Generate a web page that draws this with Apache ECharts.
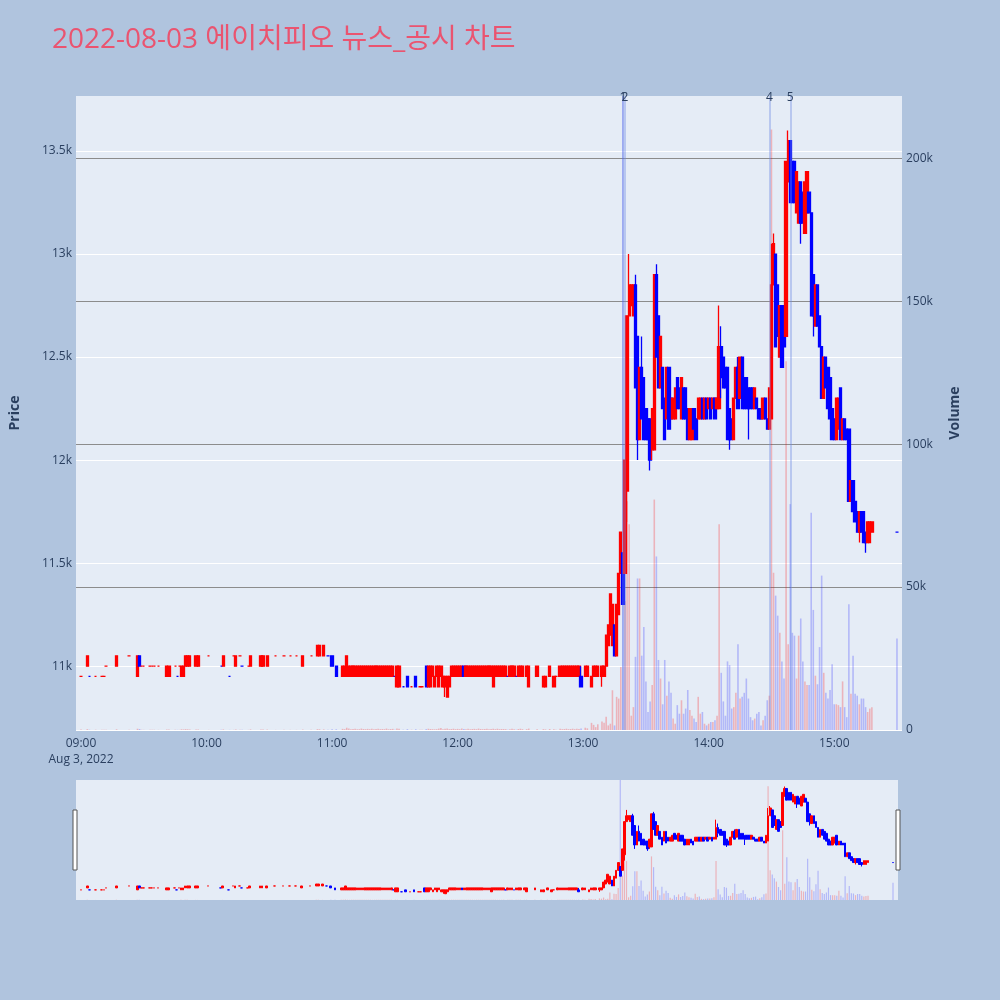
<!DOCTYPE html>
<html><head><meta charset="utf-8">
<script src="https://cdn.jsdelivr.net/npm/echarts@6/dist/echarts.min.js"></script>
<style>html,body{margin:0;padding:0;background:#b0c4de}#c{width:1000px;height:1000px}</style>
</head><body><div id="c"></div>
<script>
// ---- data (minute candles, 2022-08-03) ----
const times = [
'09:00','09:03','09:04','09:07','09:10','09:11','09:12','09:17','09:23','09:27','09:28','09:29','09:30','09:33','09:34','09:35','09:37','09:41','09:42','09:45','09:46','09:47','09:48','09:49','09:50','09:51','09:52','09:55','09:56',
'10:01','10:07','10:08','10:11','10:13','10:14','10:16','10:17','10:20','10:21','10:26','10:27','10:29','10:33','10:37','10:40','10:43','10:46','10:50','10:53','10:54','10:56','10:58',
'11:00','11:02',
'11:05','11:06','11:07','11:08','11:09','11:10','11:11','11:12','11:13','11:14','11:15','11:16','11:17','11:18','11:19','11:20','11:21','11:22','11:23','11:24','11:25','11:26','11:27','11:28','11:29',
'11:30','11:31','11:32','11:34','11:36','11:38','11:40','11:42','11:43','11:45','11:46','11:47','11:48','11:49','11:50','11:51','11:52','11:53','11:54','11:55','11:56',
'11:57','11:58','11:59','12:00','12:01','12:02','12:03','12:04','12:05','12:06','12:07','12:08','12:09','12:10','12:11','12:12','12:13','12:14','12:15','12:16','12:17','12:18','12:19','12:20','12:21','12:22','12:23',
'12:24','12:25','12:26','12:27','12:28','12:29','12:30','12:31',
'12:33','12:34','12:38','12:41','12:42','12:44','12:46','12:47',
'12:49','12:50','12:51','12:52','12:53','12:54','12:55','12:56','12:57','12:58','12:59',
'13:01','13:02','13:04','13:05','13:06','13:07','13:09','13:10',
'13:11','13:12','13:13','13:14','13:15','13:16','13:17','13:18','13:19','13:20',
'13:21','13:22','13:23','13:24','13:25','13:26','13:27','13:28','13:29','13:30',
'13:31','13:32','13:33','13:34','13:35','13:36','13:37','13:38','13:39','13:40',
'13:41','13:42','13:43','13:44','13:45','13:46','13:47','13:48','13:49','13:50',
'13:51','13:52','13:53','13:54','13:55','13:56','13:57','13:58','13:59','14:00',
'14:01','14:02','14:03','14:04','14:05','14:06','14:07','14:08','14:09','14:10',
'14:11','14:12','14:13','14:14','14:15','14:16','14:17','14:18','14:19','14:20',
'14:21','14:22','14:23','14:24','14:25','14:26','14:27','14:28','14:29','14:30',
'14:31','14:32','14:33','14:34','14:35','14:36','14:37','14:38','14:39','14:40',
'14:41','14:42','14:43','14:44','14:45','14:46','14:47','14:48','14:49','14:50',
'14:51','14:52','14:53','14:54','14:55','14:56','14:57','14:58','14:59','15:00',
'15:01','15:02','15:03','15:04','15:05','15:06','15:07','15:08','15:09','15:10',
'15:11','15:12','15:13','15:14','15:15','15:16','15:17','15:18',
'15:30'
];
const opens = [
10950,11000,10950,10950,10950,10950,11000,11000,11050,10950,11050,11000,11000,11000,11000,11000,11000,10950,10950,11000,10950,11000,10950,10950,11000,11000,11000,11000,11000,
11050,11000,11000,10950,11050,11000,11050,11000,11000,11000,11000,11000,11000,11050,11050,11050,11050,11000,11050,11050,11050,11050,11050,
11050,11000,
10950,10950,10950,10950,10950,10950,10950,10950,10950,10950,10950,10950,10950,10950,10950,10950,10950,10950,10950,10950,10950,10950,10950,10950,10950,
10950,10900,10900,10900,10950,10900,10950,10900,10900,11000,10900,10900,10950,10900,10950,10900,10950,10900,10900,10850,10900,
10950,10950,10950,10950,10950,10950,11000,10950,10950,10950,10950,10950,10950,10950,10950,10950,10950,10950,10950,10950,10900,10950,10950,10950,10950,10950,10950,
10950,10950,10950,10950,10950,10950,10950,10950,
10950,10900,10950,10900,10900,10950,10900,10950,
10950,10950,10950,10950,10950,10950,10950,10950,10950,10950,10950,
10950,10950,10900,10950,10950,10950,10950,10950,
11000,11100,11150,11100,11200,11050,11250,11450,11550,11450,
11850,12700,12750,12700,12850,12600,12100,12450,12400,12250,
12200,12200,12050,12050,12900,12700,12350,12450,12300,12200,
12450,12300,12200,12200,12400,12350,12200,12350,12350,12250,
12100,12100,12250,12200,12200,12200,12300,12200,12300,12250,
12300,12250,12300,12250,12250,12550,12500,12450,12450,12250,
12200,12100,12300,12450,12300,12500,12400,12400,12350,12350,
12350,12250,12300,12250,12250,12200,12300,12200,12150,12200,
12850,13000,12850,12500,12750,12700,12600,13350,13550,13450,
13450,13200,13150,13350,13300,13100,13200,13300,13200,12900,
12650,12850,12700,12550,12300,12500,12450,12400,12250,12200,
12100,12150,12350,12100,12200,12150,12150,11800,11900,11800,
11750,11650,11750,11750,11650,11600,11600,11650,
11650
];
const closes = [
10950,11050,10950,10950,10950,10950,11000,11050,11050,11050,11000,11000,11000,11000,11000,11000,11000,11000,11000,11000,10950,11000,11000,11000,11050,11050,11050,11050,11050,
11050,11000,11050,10950,11050,11050,11050,11000,11000,11050,11050,11050,11050,11050,11050,11050,11050,11050,11050,11100,11100,11100,11050,
11000,10950,
11000,11000,11050,11000,11000,11000,11000,11000,11000,11000,11000,11000,11000,11000,11000,11000,11000,11000,11000,11000,11000,11000,11000,11000,11000,
10950,11000,11000,10900,10900,10900,10900,10900,10900,10900,11000,11000,11000,10950,11000,11000,11000,10950,10950,10950,10950,
11000,11000,11000,11000,11000,11000,10950,11000,11000,11000,11000,11000,11000,11000,11000,11000,11000,11000,11000,11000,11000,11000,11000,11000,11000,11000,11000,
10950,11000,11000,11000,10950,11000,11000,11000,
11000,11000,11000,10950,10950,11000,10950,10950,
11000,11000,11000,11000,11000,11000,11000,11000,11000,11000,10900,
11000,11000,10950,11000,11000,11000,11000,11000,
11150,11200,11350,11300,11050,11300,11450,11650,11300,12000,
12700,12850,12850,12850,12350,12100,12450,12200,12100,12100,
12100,12000,12250,12900,12500,12350,12600,12250,12100,12450,
12150,12200,12300,12350,12250,12250,12400,12200,12200,12100,
12250,12250,12150,12100,12300,12300,12200,12300,12200,12300,
12200,12300,12200,12300,12550,12400,12350,12350,12100,12100,
12100,12300,12450,12250,12500,12250,12250,12250,12250,12250,
12250,12350,12250,12200,12200,12300,12200,12150,12350,12850,
13050,12550,12600,12750,12450,12550,13450,13550,13250,13250,
13250,13400,13350,13150,13150,13350,13400,13200,12700,12700,
12850,12650,12550,12300,12500,12350,12250,12200,12100,12100,
12300,12300,12100,12200,12100,12100,11800,11900,11750,11700,
11650,11750,11650,11600,11600,11700,11700,11700,
11650
];
const lows = [
10950,11000,10950,10950,10950,10950,11000,11000,11050,10950,11000,11000,11000,11000,11000,11000,11000,10950,10950,11000,10950,11000,10950,10950,11000,11000,11000,11000,11000,
11050,11000,11000,10950,11050,11000,11050,11000,11000,11000,11000,11000,11000,11050,11050,11050,11050,11000,11050,11050,11050,11050,11050,
11000,10950,
10950,10950,10950,10950,10950,10950,10950,10950,10950,10950,10950,10950,10950,10950,10950,10950,10950,10950,10950,10950,10950,10950,10950,10950,10950,
10950,10900,10900,10900,10900,10900,10900,10900,10900,10900,10900,10900,10950,10900,10950,10900,10950,10900,10850,10850,10900,
10950,10950,10950,10950,10950,10950,10950,10950,10950,10950,10950,10950,10950,10950,10950,10950,10950,10950,10950,10950,10900,10950,10950,10950,10950,10950,10950,
10950,10950,10950,10950,10950,10950,10950,10950,
10950,10900,10950,10900,10900,10950,10900,10950,
10950,10950,10950,10950,10950,10950,10950,10950,10950,10950,10900,
10950,10950,10900,10950,10950,10950,10900,10950,
11000,11100,11150,11100,11050,11050,11250,11450,11300,11450,
11700,12700,12750,12700,12350,12000,12100,12200,12100,12100,
12100,11950,12000,12050,12500,12350,12350,12250,12100,12200,
12150,12200,12200,12200,12250,12250,12200,12200,12200,12100,
12100,12100,12150,12100,12200,12200,12200,12200,12200,12250,
12200,12250,12200,12250,12250,12300,12350,12350,12100,12050,
12100,12100,12300,12250,12300,12250,12250,12250,12100,12250,
12250,12250,12250,12200,12200,12200,12200,12150,12150,12200,
12850,12550,12600,12500,12450,12550,12600,13350,13250,13250,
13250,13200,13150,13050,13150,13100,13200,13200,12700,12600,
12650,12650,12550,12300,12300,12350,12250,12200,12100,12100,
12100,12150,12100,12100,12100,12100,11800,11800,11750,11700,
11650,11600,11650,11600,11550,11600,11600,11650,
11650
];
const highs = [
10950,11050,10950,10950,10950,10950,11000,11050,11050,11050,11050,11000,11000,11000,11000,11000,11000,11000,11000,11000,10950,11000,11000,11000,11050,11050,11050,11050,11050,
11050,11000,11050,10950,11050,11050,11050,11000,11000,11050,11050,11050,11050,11050,11050,11050,11050,11050,11050,11100,11100,11100,11050,
11050,11000,
11000,11000,11050,11000,11000,11000,11000,11000,11000,11000,11000,11000,11000,11000,11000,11000,11000,11000,11000,11000,11000,11000,11000,11000,11000,
10950,11000,11000,10900,10950,10900,10950,10900,10900,11000,11000,11000,11000,10950,11000,11000,11000,10950,10950,10950,10950,
11000,11000,11000,11000,11000,11000,11000,11000,11000,11000,11000,11000,11000,11000,11000,11000,11000,11000,11000,11000,11000,11000,11000,11000,11000,11000,11000,
10950,11000,11000,11000,10950,11000,11000,11000,
11000,11000,11000,10950,10950,11000,10950,10950,
11000,11000,11000,11000,11000,11000,11000,11000,11000,11000,11000,
11000,11000,10950,11000,11000,11000,11000,11000,
11150,11200,11350,11300,11200,11300,11450,11650,11550,12000,
12700,13000,12850,12850,12900,12600,12450,12600,12400,12250,
12200,12200,12250,12900,12950,12700,12600,12450,12300,12450,
12450,12300,12300,12350,12400,12350,12400,12350,12350,12250,
12250,12250,12250,12200,12300,12300,12300,12300,12300,12300,
12300,12300,12300,12300,12750,12650,12500,12450,12450,12250,
12200,12300,12450,12500,12500,12500,12400,12400,12350,12350,
12350,12350,12300,12250,12250,12300,12300,12200,12350,13050,
13100,13000,12850,12750,12750,12700,13450,13600,13550,13450,
13450,13400,13350,13350,13300,13350,13400,13300,13200,12900,
12850,12850,12700,12550,12500,12500,12450,12400,12250,12200,
12300,12300,12350,12200,12200,12150,12150,11900,11900,11800,
11750,11750,11750,11750,11650,11700,11700,11700,
11650
];
const volumes = [
150,300,100,100,100,80,50,250,50,450,350,80,50,80,50,80,50,200,150,50,50,50,250,200,300,250,150,200,150,
50,50,200,50,50,200,50,50,50,200,200,150,150,50,50,50,50,150,50,300,250,200,100,
250,250,
400,300,800,500,300,350,400,250,300,500,350,300,400,300,450,250,350,400,300,350,300,500,250,350,400,
100,500,400,100,300,100,250,100,100,300,450,350,300,250,300,500,700,300,450,500,300,
350,450,300,400,300,500,350,250,450,300,350,400,300,500,350,300,350,450,250,350,400,300,450,300,350,350,300,
100,300,400,300,100,350,450,300,
300,500,250,300,200,350,300,100,
400,300,350,450,300,350,450,300,400,350,500,
800,600,2500,1800,1000,2000,3000,2500,
4600,1600,2200,13900,1600,11600,11000,22000,230000,45000,
80000,72000,5000,8000,25600,53000,53000,26000,36000,17000,
6300,10000,15700,80600,60700,24500,18000,9000,24500,12000,
17000,13000,4000,2200,8700,5700,10400,5700,7500,14000,
7000,5000,4000,2800,11600,5700,6300,2200,1600,2200,
2800,2800,3400,5000,72000,20000,10000,5000,24000,22700,
7500,8000,13000,30000,11000,11600,13000,18000,11000,4500,
3400,4000,5700,6300,1600,3400,5000,10400,12000,210000,
55000,47000,40000,34000,24000,18000,129000,30000,79000,34000,
33000,18000,33000,39000,24000,17000,15700,15700,76000,42000,
19000,16000,29000,54000,20000,13000,11000,14000,23000,9000,
9000,8700,8000,17000,8000,4500,44000,12700,26000,12700,
12000,9000,11000,11000,8000,6300,7500,8000,
32000
];
const newsTimes = ['13:19','13:20','14:29','14:39'];
const newsLabels = ['1','2','4','5'];
const priceTicks = [11000,11500,12000,12500,13000,13500];
const volumeTicks = [0,50000,100000,150000,200000];
const timeTicks = ['09:00','10:00','11:00','12:00','13:00','14:00','15:00'];

// ---- build ----
const toMin = t => (parseInt(t.slice(0,2),10)-9)*60 + parseInt(t.slice(3),10);
const fmtTime = m => { const h = 9 + Math.floor(m/60), mm = Math.round(m%60); return (h<10?'0':'')+h+':'+(mm<10?'0':'')+mm; };
const UP = '#ff0000', DOWN = '#0000ff';
const UPV = 'rgba(255,0,0,0.24)', DOWNV = 'rgba(0,0,255,0.22)';
const candleData = times.map((t,i)=>[toMin(t), opens[i], closes[i], lows[i], highs[i]]);
const volData = times.map((t,i)=>{
  let up = closes[i] > opens[i] || (closes[i] === opens[i] && (i === 0 || closes[i] >= closes[i-1]));
  return {value:[toMin(t), volumes[i]], itemStyle:{color: up ? UPV : DOWNV}};
});
const FONT = '"Open Sans", "Noto Sans CJK KR", sans-serif';
const TXT = '#2a3f5f';
const XMIN = -2.4, XMAX = 392.4, PMIN = 10690, PMAX = 13767, VMAX = 221750;

const chart = echarts.init(document.getElementById('c'), null, {renderer:'canvas'});
chart.setOption({
  animation: false,
  backgroundColor: '#b0c4de',
  textStyle: {fontFamily: FONT},
  title: {text: '2022-08-03 에이치피오 뉴스_공시 차트', left: 47, top: 21,
    textStyle: {color: '#ea5470', fontSize: 28, fontWeight: 'normal', fontFamily: FONT}},
  grid: [
    {left: 72, right: 98, top: 96, height: 634, show: true, backgroundColor: '#e5ecf6', borderWidth: 0},
    {left: 76, right: 102, top: 780, height: 120, show: true, backgroundColor: '#e5ecf6', borderWidth: 0}
  ],
  xAxis: [
    {type: 'value', gridIndex: 0, min: XMIN, max: XMAX,
     axisLine: {show: false}, axisTick: {show: false, customValues: timeTicks.map(toMin)}, splitLine: {show: false},
     axisLabel: {customValues: timeTicks.map(toMin), color: TXT, fontSize: 12, margin: 6, lineHeight: 16,
       formatter: v => v === 0 ? fmtTime(v) + '\nAug 3, 2022' : fmtTime(v)}},
    {type: 'value', gridIndex: 1, min: XMIN, max: XMAX, show: false}
  ],
  yAxis: [
    {type: 'value', gridIndex: 0, min: PMIN, max: PMAX, position: 'left',
     name: 'Price', nameLocation: 'middle', nameGap: 54, nameRotate: 90,
     nameTextStyle: {color: TXT, fontSize: 14, fontWeight: 'bold'},
     axisLine: {show: false}, axisTick: {show: false, customValues: priceTicks},
     axisLabel: {customValues: priceTicks, color: TXT, fontSize: 12, margin: 4, formatter: v => (v/1000) + 'k'},
     splitLine: {show: true, lineStyle: {color: '#ffffff', width: 1}}},
    {type: 'value', gridIndex: 0, min: 0, max: VMAX, position: 'right',
     name: 'Volume', nameLocation: 'middle', nameGap: 46, nameRotate: 90,
     nameTextStyle: {color: TXT, fontSize: 14, fontWeight: 'bold'},
     axisLine: {show: false}, axisTick: {show: false, customValues: volumeTicks},
     axisLabel: {customValues: volumeTicks, color: TXT, fontSize: 12, margin: 4, formatter: v => v === 0 ? '0' : (v/1000) + 'k'},
     splitLine: {show: true, lineStyle: {color: ['#ffffff','#8c8c8c','#8c8c8c','#8c8c8c','#8c8c8c'], width: 1}}},
    {type: 'value', gridIndex: 1, min: PMIN, max: PMAX, show: false},
    {type: 'value', gridIndex: 1, min: 0, max: VMAX, show: false}
  ],
  graphic: [
    {type: 'rect', shape: {x: 73, y: 810, width: 4, height: 60}, style: {fill: '#ffffff', stroke: '#555', lineWidth: 1}, z: 100},
    {type: 'rect', shape: {x: 896, y: 810, width: 4, height: 60}, style: {fill: '#ffffff', stroke: '#555', lineWidth: 1}, z: 100}
  ],
  series: [
    {type: 'bar', xAxisIndex: 0, yAxisIndex: 1, data: volData, barWidth: 1.6, z: 1, silent: true,
     markLine: {silent: true, symbol: ['none','none'], animation: false,
       lineStyle: {color: 'rgba(110,140,230,0.5)', width: 1.5, type: 'solid'},
       label: {show: true, position: 'end', distance: -8, color: TXT, fontSize: 12, formatter: p => p.name},
       data: newsTimes.map((t,i)=>({name: newsLabels[i], xAxis: toMin(t)}))}},
    {type: 'candlestick', xAxisIndex: 0, yAxisIndex: 0, data: candleData, barWidth: 2.8, z: 3,
     encode: {x: 0, y: [1,2,3,4]},
     itemStyle: {color: UP, color0: DOWN, borderColor: UP, borderColor0: DOWN, borderWidth: 1.3}},
    {type: 'bar', xAxisIndex: 1, yAxisIndex: 3, data: volData, barWidth: 1.2, z: 1, silent: true},
    {type: 'candlestick', xAxisIndex: 1, yAxisIndex: 2, data: candleData, barWidth: 2.2, z: 3,
     encode: {x: 0, y: [1,2,3,4]},
     itemStyle: {color: UP, color0: DOWN, borderColor: UP, borderColor0: DOWN, borderWidth: 1}}
  ]
});
</script></body></html>
